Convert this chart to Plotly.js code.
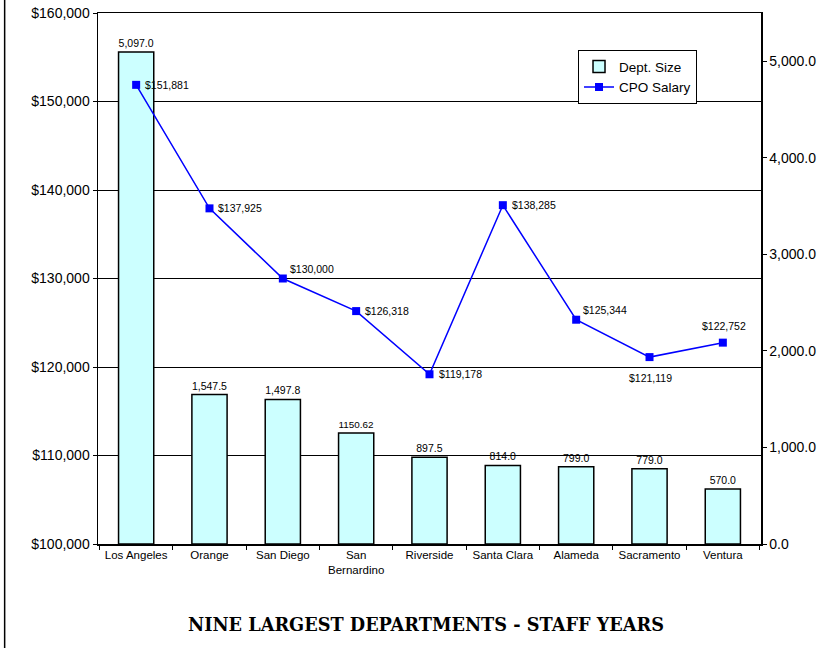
<!DOCTYPE html>
<html>
<head>
<meta charset="utf-8">
<script src="https://cdn.plot.ly/plotly-3.0.1.min.js"></script>
<style>html,body{margin:0;padding:0;background:#fff;}#chart{width:823px;height:648px;}</style>
</head>
<body>
<div id="chart"></div>
<script>
var categories = ["Los Angeles", "Orange", "San Diego", "San<br>Bernardino", "Riverside", "Santa Clara", "Alameda", "Sacramento", "Ventura"];
var deptSize = [5097.0, 1547.5, 1497.8, 1150.62, 897.5, 814.0, 799.0, 779.0, 570.0];
var deptSizeLabels = ["5,097.0", "1,547.5", "1,497.8", "1150.62", "897.5", "814.0", "799.0", "779.0", "570.0"];
var cpoSalary = [151881, 137925, 130000, 126318, 119178, 138285, 125344, 121119, 122752];
var cpoSalaryLabels = ["$151,881", "$137,925", "$130,000", "$126,318", "$119,178", "$138,285", "$125,344", "$121,119", "$122,752"];
// label placement: "r" = right, "tr" = above right, "b" = below, "t" = above
var salaryLabelPos = ["r", "r", "tr", "r", "r", "r", "tr", "b", "t"];

var font = "Liberation Sans, Arial, sans-serif";

var bars = {
  type: "bar",
  name: "Dept. Size",
  x: categories,
  y: deptSize,
  yaxis: "y",
  text: deptSizeLabels,
  textposition: "outside",
  cliponaxis: false,
  textfont: {family: font, size: 10.5, color: "#000"},
  marker: {color: "#CCFFFF", line: {color: "#000", width: 1.5}},
  hoverinfo: "skip"
};
var line = {
  type: "scatter",
  mode: "lines+markers",
  name: "CPO Salary",
  x: categories,
  y: cpoSalary,
  yaxis: "y2",
  cliponaxis: false,
  line: {color: "#0000FF", width: 1.5},
  marker: {symbol: "square", size: 8, color: "#0000FF"}
};

var placement = {
  r:  {xanchor: "left",   yanchor: "middle", xshift: 7, yshift: 0},
  tr: {xanchor: "left",   yanchor: "middle", xshift: 5, yshift: 10},
  b:  {xanchor: "center", yanchor: "middle", xshift: 1, yshift: -21},
  t:  {xanchor: "center", yanchor: "middle", xshift: 1, yshift: 17}
};
var salaryAnnotations = categories.map(function (c, i) {
  var p = placement[salaryLabelPos[i]];
  return {
    x: c, y: cpoSalary[i], xref: "x", yref: "y2",
    text: cpoSalaryLabels[i], showarrow: false,
    xanchor: p.xanchor, yanchor: p.yanchor, xshift: p.xshift, yshift: p.yshift,
    font: {family: font, size: 10.5, color: "#000"}
  };
});

var layout = {
  width: 823, height: 648,
  margin: {l: 98, r: 62, t: 13, b: 104},
  paper_bgcolor: "#fff", plot_bgcolor: "#fff",
  font: {family: font, color: "#000"},
  showlegend: true,
  bargap: 0.52,
  legend: {
    x: 0.724, y: 0.93, xanchor: "left", yanchor: "top",
    bgcolor: "#fff", bordercolor: "#000", borderwidth: 1,
    font: {family: font, size: 13.5, color: "#000"},
    tracegroupgap: 0, itemwidth: 30
  },
  xaxis: {
    showline: true, linecolor: "#000", linewidth: 1.5, mirror: true,
    ticks: "outside", ticklen: 4, tickcolor: "#000", tickson: "boundaries",
    tickfont: {family: font, size: 11.5, color: "#000"},
    showgrid: false, fixedrange: true
  },
  yaxis: {
    side: "right", range: [0, 5500], dtick: 1000, tick0: 0,
    tickformat: ",.1f",
    showline: true, linecolor: "#000", linewidth: 1.5,
    ticks: "outside", ticklen: 4, tickcolor: "#000",
    tickfont: {family: font, size: 14, color: "#000"},
    showgrid: false, zeroline: false
  },
  yaxis2: {
    overlaying: "y", side: "left", range: [100000, 160000], dtick: 10000, tick0: 100000,
    tickformat: ",d", tickprefix: "$",
    showline: true, linecolor: "#000", linewidth: 1.5,
    ticks: "outside", ticklen: 4, tickcolor: "#000",
    tickfont: {family: font, size: 14, color: "#000"},
    showgrid: true, gridcolor: "#000", gridwidth: 1, zeroline: false
  },
  annotations: salaryAnnotations.concat([{
    text: "<b>NINE LARGEST DEPARTMENTS - STAFF YEARS</b>",
    xref: "paper", yref: "paper", x: 0.495, y: -0.1525,
    xanchor: "center", yanchor: "middle", showarrow: false,
    font: {family: "DejaVu Serif, serif", size: 17.7, color: "#000"}
  }]),
  shapes: [{
    type: "line", xref: "paper", yref: "paper",
    x0: -0.1408, x1: -0.1408, y0: -0.197, y1: 1.03,
    line: {color: "#000", width: 1.5}
  }]
};

Plotly.newPlot("chart", [bars, line], layout, {displayModeBar: false, staticPlot: true});
</script>
</body>
</html>
